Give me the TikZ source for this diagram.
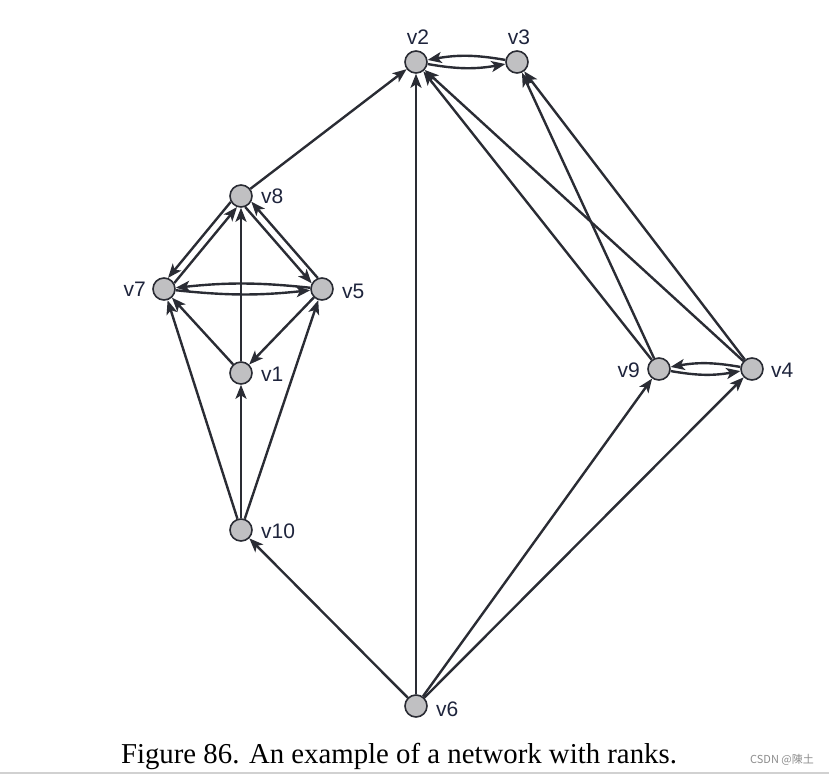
\documentclass[tikz,border=0pt]{standalone}
\usepackage{fontspec}
\setmainfont{Liberation Serif}
\newfontfamily\labfont{Liberation Sans}
\newfontfamily\cjkfont{Noto Sans CJK SC}
\usetikzlibrary{arrows.meta}
\definecolor{edgec}{RGB}{42,44,52}
\definecolor{nodefill}{RGB}{192,192,194}
\definecolor{labc}{RGB}{30,36,60}
\tikzset{
  vtx/.style={circle, draw=edgec, fill=nodefill, line width=1.6pt, minimum size=22pt, inner sep=0pt},
  lab/.style={font=\labfont\fontsize{21}{23}\selectfont, text=labc, inner sep=0pt},
  arr/.style={draw=edgec, line width=2.4pt, -{Stealth[length=14pt,width=11pt,inset=3.5pt]}},
}
\begin{document}
\begin{tikzpicture}[x=1pt,y=1pt]
\useasboundingbox (0,0) rectangle (829,777);
% nodes
\node[vtx] (v2) at (416,715) {};
\node[vtx] (v3) at (517,715) {};
\node[vtx] (v8) at (241,581) {};
\node[vtx] (v7) at (164,488) {};
\node[vtx] (v5) at (322,488) {};
\node[vtx] (v1) at (241,404) {};
\node[vtx] (v10) at (241,247) {};
\node[vtx] (v9) at (659,408) {};
\node[vtx] (v4) at (752,408) {};
\node[vtx] (v6) at (416,71) {};
% labels
\node[lab] (l2) at (418,740) {v2};
\node[lab] (l3) at (519,740) {v3};
\node[lab, anchor=west] (l8) at (261,581) {v8};
\node[lab, anchor=east] (l7) at (146,488) {v7};
\node[lab, anchor=west] (l5) at (342,486) {v5};
\node[lab, anchor=west] (l1) at (261,403) {v1};
\node[lab, anchor=west] (l10) at (261,246) {v10};
\node[lab, anchor=east] (l9) at (640,407) {v9};
\node[lab, anchor=west] (l4) at (771,407) {v4};
\node[lab, anchor=west] (l6) at (436,68) {v6};
% edges
\draw[arr] (v8) -- (v2);
\draw[arr] (v2) to[bend right=10] (v3);
\draw[arr] (v3) to[bend right=10] (v2);
\draw[arr] (v6) -- (v2);
\draw[arr] (v6) -- (v10);
\draw[arr] (v6) -- (v9);
\draw[arr] (v6) -- (v4);
\draw[arr] (v9) -- (v2);
\draw[arr] (v4) -- (v2);
\draw[arr] (v9) -- (v3);
\draw[arr] (v4) -- (v3);
\draw[arr] (v9) to[bend right=10] (v4);
\draw[arr] (v4) to[bend right=10] (v9);
\draw[arr] (v10) -- (v7);
\draw[arr] (v10) -- (v1);
\draw[arr] (v10) -- (v5);
\draw[arr] (v1) -- (v7);
\draw[arr] (v1) -- (v8);
\draw[arr] (v5) -- (v1);
\draw[arr] (v8.210) -- (v7.70);
\draw[arr] (v7.30) -- (v8.250);
\draw[arr] (v8.291) -- (v5.151);
\draw[arr] (v5.111) -- (v8.331);
\draw[arr] (v7) to[bend right=6] (v5);
\draw[arr] (v5) to[bend right=6] (v7);
% caption
\node[font=\fontsize{28.8}{32}\selectfont, text=black, inner sep=0pt] (cap) at (399,21) {Figure 86. An example of a network with ranks.};
\node[font=\cjkfont\fontsize{11}{13}\selectfont, text=black!45, inner sep=0pt] (wm) at (782,17) {CSDN @陳土};
\draw[black!18, line width=2pt] (0,4) -- (829,4);
\end{tikzpicture}
\end{document}
